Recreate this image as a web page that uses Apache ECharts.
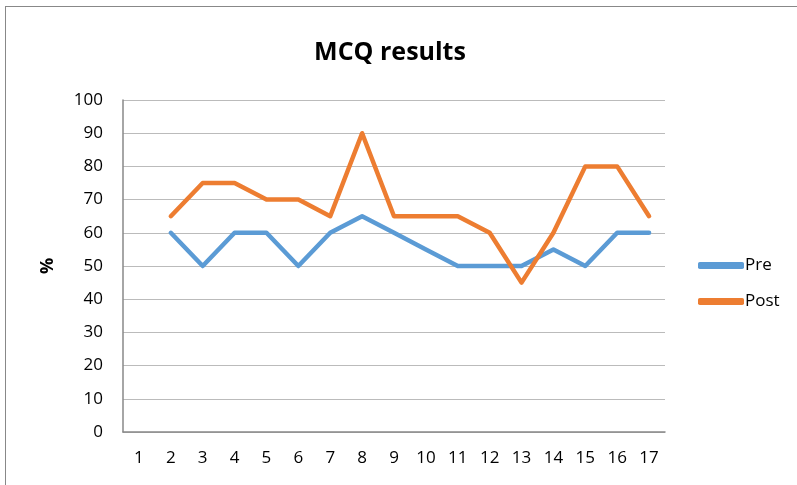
<!DOCTYPE html>
<html>
<head>
<meta charset="utf-8">
<script src="https://cdn.jsdelivr.net/npm/echarts@6/dist/echarts.min.js"></script>
<style>
  html, body { margin: 0; padding: 0; background: #fff; }
  #frame { position: absolute; left: 5px; top: 6px; width: 800px; height: 500px; border: 1px solid #888; }
  #chart { position: absolute; left: 0; top: 0; width: 797px; height: 485px; }
</style>
</head>
<body>
<div id="frame"></div>
<div id="chart"></div>
<script>
  // 数据
  var categories = ['1', '2', '3', '4', '5', '6', '7', '8', '9', '10', '11', '12', '13', '14', '15', '16', '17'];
  var preValues = [null, 60, 50, 60, 60, 50, 60, 65, 60, 55, 50, 50, 50, 55, 50, 60, 60];
  var postValues = [null, 65, 75, 75, 70, 70, 65, 90, 65, 65, 65, 60, 45, 60, 80, 80, 65];

  var fontFam = '"Open Sans", "Liberation Sans", sans-serif';
  var chart = echarts.init(document.getElementById('chart'));
  chart.setOption({
    animation: false,
    title: {
      text: 'MCQ results',
      left: 385,
      textAlign: 'center',
      top: 35,
      textStyle: { fontSize: 25, fontWeight: 'bold', color: '#000', fontFamily: fontFam }
    },
    legend: {
      orient: 'vertical',
      left: 693,
      top: 252,
      itemWidth: 46,
      itemHeight: 7,
      itemGap: 19,
      icon: 'roundRect',
      textStyle: { fontSize: 17, color: '#000', fontFamily: fontFam, padding: [0, 0, 0, -4] },
      data: ['Pre', 'Post']
    },
    grid: { left: 123, right: 132, top: 100, bottom: 53 },
    xAxis: {
      type: 'category',
      data: categories,
      boundaryGap: true,
      axisLine: { lineStyle: { color: '#888', width: 1.5 } },
      axisTick: { show: false },
      axisLabel: { color: '#000', fontSize: 17, margin: 18, fontFamily: fontFam }
    },
    yAxis: {
      type: 'value',
      min: 0,
      max: 100,
      interval: 10,
      name: '%',
      nameLocation: 'middle',
      nameGap: 66,
      nameTextStyle: { fontSize: 18, fontWeight: 'bold', color: '#000', fontFamily: fontFam },
      axisLine: { show: true, lineStyle: { color: '#888', width: 1.5 } },
      axisTick: { show: false },
      axisLabel: { color: '#000', fontSize: 17, margin: 20, fontFamily: fontFam },
      splitLine: { lineStyle: { color: '#bbb', width: 1 } }
    },
    series: [
      {
        name: 'Pre',
        type: 'line',
        data: preValues,
        symbol: 'none',
        lineStyle: { color: '#5B9BD5', width: 4.5, cap: 'round', join: 'round' },
        itemStyle: { color: '#5B9BD5' }
      },
      {
        name: 'Post',
        type: 'line',
        data: postValues,
        symbol: 'none',
        lineStyle: { color: '#ED7D31', width: 4.5, cap: 'round', join: 'round' },
        itemStyle: { color: '#ED7D31' }
      }
    ]
  });
</script>
</body>
</html>
